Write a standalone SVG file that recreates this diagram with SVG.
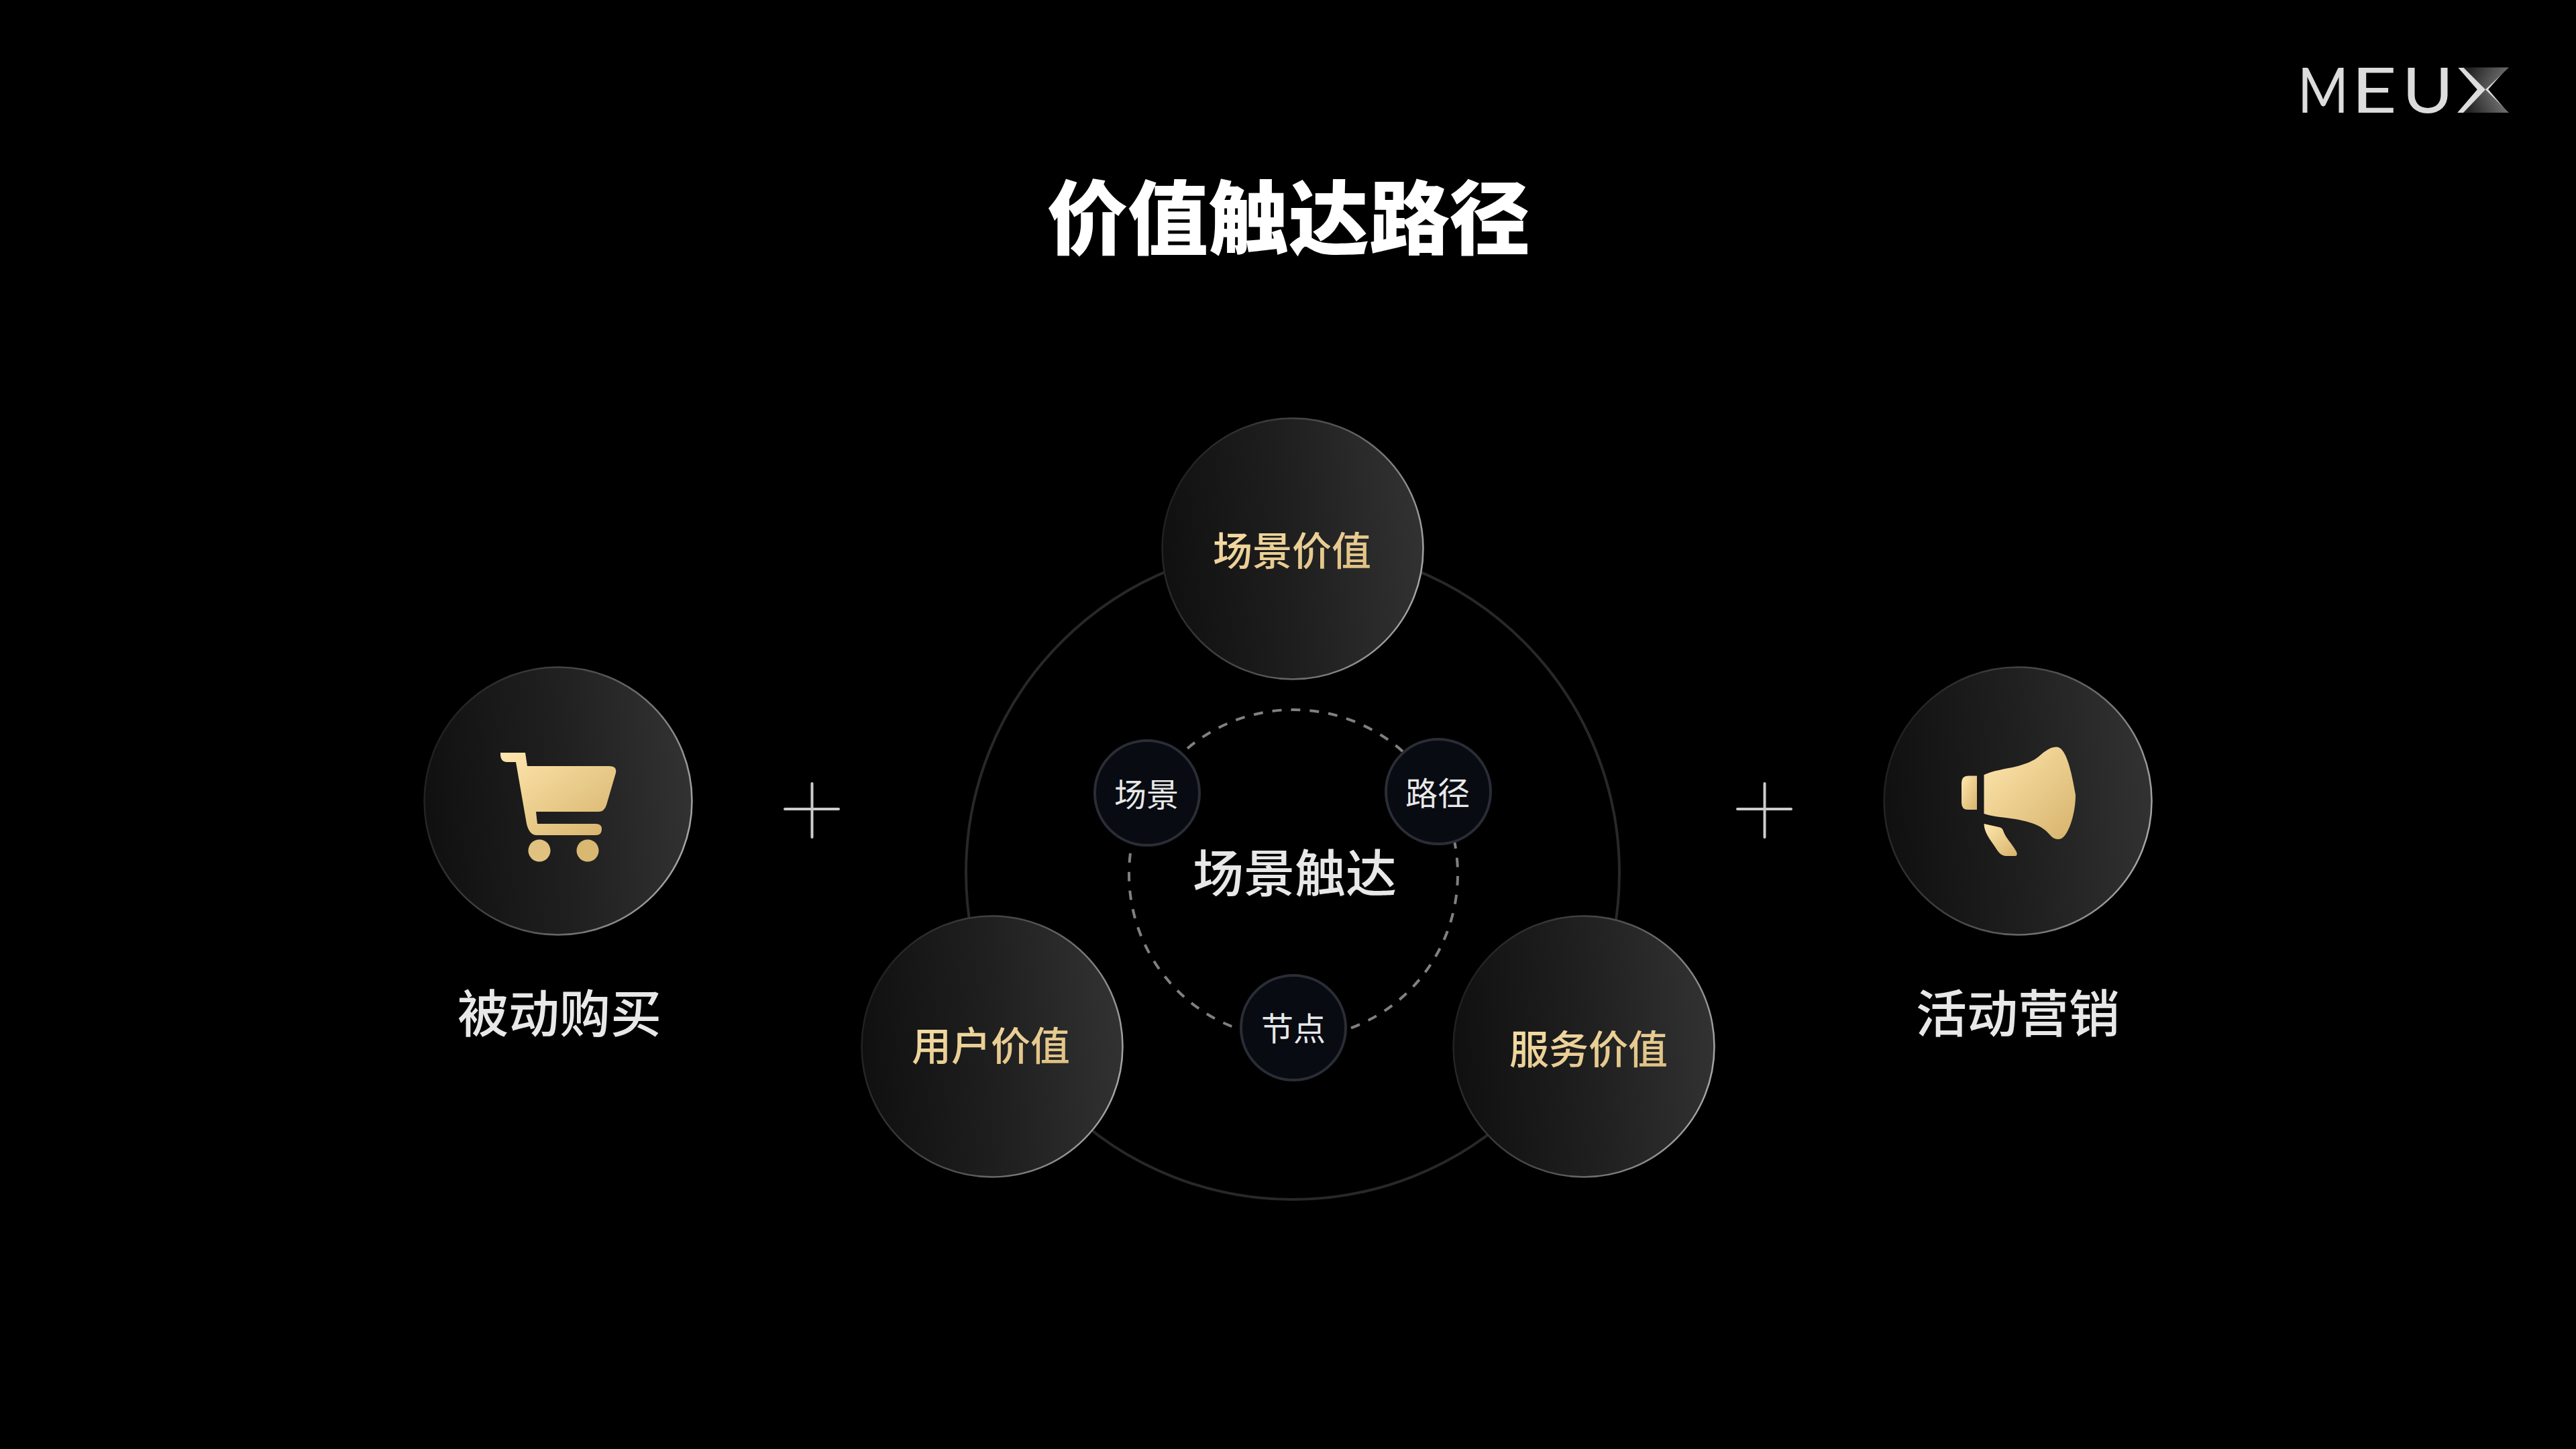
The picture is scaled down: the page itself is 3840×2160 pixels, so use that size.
<svg xmlns="http://www.w3.org/2000/svg" width="3840" height="2160" viewBox="0 0 3840 2160">
<defs>
<linearGradient id="fill" x1="0" y1="0.5" x2="1" y2="0.4"><stop offset="0" stop-color="#101010"/><stop offset="0.5" stop-color="#1f1f1f"/><stop offset="1" stop-color="#323232"/></linearGradient>
<linearGradient id="edge" x1="0" y1="0.35" x2="1" y2="0.65"><stop offset="0" stop-color="#1e1e1e"/><stop offset="0.5" stop-color="#505050"/><stop offset="1" stop-color="#a8a8a8"/></linearGradient>
<linearGradient id="gold" x1="0" y1="0" x2="1" y2="1"><stop offset="0" stop-color="#ffe7ae"/><stop offset="1" stop-color="#d6b36c"/></linearGradient>
<linearGradient id="goldtext" x1="0" y1="0" x2="1" y2="1"><stop offset="0" stop-color="#f8e1ab"/><stop offset="1" stop-color="#dcbc7e"/></linearGradient>
<linearGradient id="xt" gradientUnits="userSpaceOnUse" x1="3680" y1="105" x2="3730" y2="135"><stop offset="0" stop-color="#222"/><stop offset="1" stop-color="#777"/></linearGradient>
<linearGradient id="xb" gradientUnits="userSpaceOnUse" x1="3680" y1="166" x2="3730" y2="140"><stop offset="0" stop-color="#222"/><stop offset="1" stop-color="#777"/></linearGradient>
</defs>
<style>
text{font-family:"Noto Sans CJK SC","Liberation Sans",sans-serif;text-anchor:middle;dominant-baseline:central}
.big{fill:url(#fill);stroke:url(#edge);stroke-width:2.500}
.small{fill:#080b12;stroke:#2a2d35;stroke-width:4}
.gold{fill:url(#goldtext);font-size:59px;font-weight:500}
.w76{fill:#e8e8e8;font-size:76px;font-weight:500}
.w46{fill:#e8e8e8;font-size:48px}
.plus{stroke:#ccc;stroke-width:4;stroke-linecap:round}
</style>
<rect width="3840" height="2160" fill="#000"/>
<g id="logo">
<text y="168" font-size="93" style="font-family:'Lato','Noto Sans',sans-serif;text-anchor:start;dominant-baseline:alphabetic" fill="#dcdcdc"><tspan x="3425" textLength="76" lengthAdjust="spacingAndGlyphs">M</tspan><tspan x="3505" textLength="68" lengthAdjust="spacingAndGlyphs">E</tspan><tspan x="3581" textLength="76" lengthAdjust="spacingAndGlyphs">U</tspan><tspan x="3662" textLength="78" lengthAdjust="spacingAndGlyphs">X</tspan></text>
<polygon points="3672,100.500 3740,100.500 3705,133.500" fill="url(#xt)"/>
<polygon points="3672,168 3740,168 3705,133.500" fill="url(#xb)"/>
</g>
<text id="title" x="1921" y="318" font-size="120" font-weight="900" fill="#fff">价值触达路径</text>
<g id="connectors">
<circle cx="1927" cy="1301" r="487" fill="none" stroke="#282828" stroke-width="4"/>
<circle cx="1928" cy="1303" r="245" fill="none" stroke="#808080" stroke-width="4" stroke-dasharray="14 13.990" stroke-dashoffset="-2.900"/>
</g>
<g id="node-top"><circle class="big" cx="1927" cy="818" r="194.500"/><text class="gold" x="1926" y="817">场景价值</text></g>
<g id="node-left"><circle class="big" cx="1479" cy="1560" r="194.500"/><text class="gold" x="1477" y="1555">用户价值</text></g>
<g id="node-right"><circle class="big" cx="2361" cy="1560" r="194.500"/><text class="gold" x="2368" y="1560">服务价值</text></g>
<g id="node-scene"><circle class="small" cx="1710" cy="1182" r="78"/><text class="w46" x="1709" y="1181">场景</text></g>
<g id="node-path"><circle class="small" cx="2144" cy="1180" r="78"/><text class="w46" x="2143" y="1179">路径</text></g>
<g id="node-point"><circle class="small" cx="1928" cy="1532" r="78"/><text class="w46" x="1928" y="1530">节点</text></g>
<text id="center" class="w76" x="1930" y="1297">场景触达</text>
<g id="node-passive">
<circle class="big" cx="832" cy="1194" r="199.500"/>
<path fill="url(#gold)" d="M746 1122H783L786 1142H908Q920 1142 918 1152L904 1200Q901 1210 892 1210H799L801 1228H888Q897 1228 897 1236Q897 1245 888 1245H800Q789 1245 785 1228L769 1136H756Q746 1136 746 1124Z"/>
<circle cx="804" cy="1268" r="16.500" fill="#e0c17f"/>
<circle cx="876" cy="1268" r="16.500" fill="#d9b872"/>
<text class="w76" x="834" y="1506">被动购买</text>
</g>
<g id="node-campaign">
<circle class="big" cx="3008" cy="1194" r="199.500"/>
<path fill="url(#gold)" d="M2947 1156.500V1207H2934Q2924 1207 2924 1197V1167Q2924 1156.500 2934 1156.500Z"/>
<path fill="url(#gold)" d="M2957.500 1155C2970 1149 2990 1146 3004 1143C3020 1139 3032 1134 3040 1127C3050 1118 3058 1113 3066 1113.500C3080 1114 3088 1150 3094 1185C3094 1215 3082 1251 3069 1251C3058 1251 3056 1243 3048 1237C3036 1227 3015 1223 3004 1221C2985 1218 2968 1217 2957.500 1213Z"/>
<path fill="url(#gold)" d="M2957.500 1228L2980 1233Q2985 1234 2986 1238C2990 1250 3000 1258 3006 1270Q3008 1276 3004 1276H2992C2984 1276 2980 1272 2975 1264C2966 1250 2958 1242 2957.500 1228Z"/>
<text class="w76" x="3008" y="1506">活动营销</text>
</g>
<g id="plus-left"><path class="plus" d="M1170 1206H1250M1210.500 1168V1248"/></g>
<g id="plus-right"><path class="plus" d="M2590 1206H2670M2630.500 1168V1248"/></g>
</svg>
